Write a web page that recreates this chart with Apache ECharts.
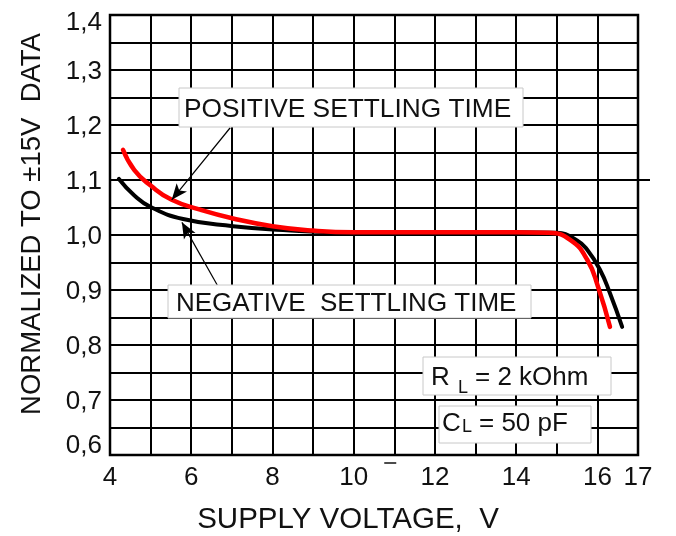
<!DOCTYPE html>
<html>
<head>
<meta charset="utf-8">
<script src="https://cdn.jsdelivr.net/npm/echarts@6/dist/echarts.min.js"></script>
<style>
  html, body { margin: 0; padding: 0; background: #fff; }
  #chart { width: 676px; height: 536px; }
</style>
</head>
<body>
<div id="chart"></div>
<script>
// Supply voltage (V) and normalized settling time for the positive edge
const posVoltage = [4.32, 4.6, 5.0, 5.52, 6.22, 7.03, 8.0, 9.0, 10, 12, 14, 14.8, 15.33, 15.75, 16.02, 16.31];
const posTime    = [1.155, 1.118, 1.09, 1.064, 1.046, 1.03, 1.016, 1.008, 1.005, 1.005, 1.005, 1.004, 0.991, 0.955, 0.905, 0.833];

// Same for the negative edge
const negVoltage = [4.22, 4.6, 5.0, 5.8, 7.03, 8.26, 9.5, 12, 14, 15.0, 15.5, 15.75, 16.07, 16.31, 16.61];
const negTime    = [1.102, 1.072, 1.051, 1.029, 1.016, 1.009, 1.005, 1.005, 1.005, 1.004, 0.99, 0.973, 0.936, 0.894, 0.833];

// Labelled ticks
const xTickLabels = [4, 6, 8, 10, 12, 14, 16, 17];
const yTickLabels = [0.6, 0.7, 0.8, 0.9, 1.0, 1.1, 1.2, 1.3, 1.4];

// Pointer arrows: [from, to] in data coordinates
const posArrow = [[6.96, 1.195], [5.52, 1.064]];
const negArrow = [[6.64, 0.909], [5.77, 1.023]];

const FONT = "'Liberation Sans', Arial, Helvetica, sans-serif";

function zip(xs, ys) { return xs.map((x, i) => [x, ys[i]]); }
function isLabeled(list, v) { return list.some(t => Math.abs(t - v) < 1e-6); }

const chart = echarts.init(document.getElementById('chart'), null, { renderer: 'canvas' });

const gridLine = { show: true, lineStyle: { color: '#000', width: 2 } };

function arrowMarks(pair) {
  return {
    silent: true,
    symbol: ['none', 'arrow'],
    symbolSize: [10, 16],
    label: { show: false },
    emphasis: { disabled: true },
    lineStyle: { color: '#000', width: 1.2, type: 'solid' },
    data: [[{ coord: pair[0] }, { coord: pair[1] }]]
  };
}

// Text placed by the vertical middle of its line box
function txt(id, x, y, text, size, extra) {
  const el = {
    type: 'text', id: id, x: x, y: y, z: 20,
    style: { text: text, fontSize: size, fontFamily: FONT, fontWeight: 'normal', fill: '#111', verticalAlign: 'middle' }
  };
  if (extra) {
    Object.assign(el.style, extra.style || {});
    if (extra.rotation != null) el.rotation = extra.rotation;
  }
  return el;
}

function box(id, x, y, w, h) {
  return {
    type: 'rect', id: id, z: 19,
    shape: { x: x, y: y, width: w, height: h },
    style: { fill: '#ffffff', stroke: '#c8c8c8', lineWidth: 1 }
  };
}

chart.setOption({
  animation: false,
  backgroundColor: '#fff',
  grid: { left: 110, top: 15, right: 38, bottom: 81, show: true, borderColor: '#000', borderWidth: 2.5, backgroundColor: 'transparent' },
  xAxis: {
    type: 'value', min: 4, max: 17, interval: 1,
    axisLine: { show: false },
    axisTick: { show: false },
    splitLine: gridLine,
    axisLabel: {
      margin: 10, color: '#111', fontSize: 26, fontFamily: FONT,
      formatter: v => isLabeled(xTickLabels, v) ? String(Math.round(v)) : ''
    }
  },
  yAxis: {
    type: 'value', min: 0.6, max: 1.4, interval: 0.05,
    axisLine: { show: false },
    axisTick: { show: false },
    splitLine: gridLine,
    axisLabel: {
      margin: 8, color: '#111', fontSize: 26, fontFamily: FONT,
      formatter: v => {
        if (!isLabeled(yTickLabels, v)) return '';
        const s = v.toFixed(1).replace('.', ',');
        if (Math.abs(v - 1.4) < 1e-6) return '{top|' + s + '}';
        if (Math.abs(v - 0.6) < 1e-6) return '{bot|' + s + '}';
        return '{n|' + s + '}';
      },
      rich: {
        n:   { fontSize: 26, fontFamily: FONT, color: '#111', padding: [4, 0, 0, 0] },
        top: { fontSize: 26, fontFamily: FONT, color: '#111', padding: [16, 0, 0, 0] },
        bot: { fontSize: 26, fontFamily: FONT, color: '#111', padding: [0, 0, 18, 0] }
      }
    }
  },
  series: [
    {
      name: 'NEGATIVE SETTLING TIME',
      type: 'line',
      data: zip(negVoltage, negTime),
      smooth: 0.5,
      showSymbol: false,
      lineStyle: { color: '#000', width: 4, cap: 'round', join: 'round' },
      z: 3,
      markLine: arrowMarks(negArrow)
    },
    {
      name: 'POSITIVE SETTLING TIME',
      type: 'line',
      data: zip(posVoltage, posTime),
      smooth: 0.5,
      showSymbol: false,
      lineStyle: { color: '#ff0000', width: 4.5, cap: 'round', join: 'round' },
      z: 4,
      markLine: arrowMarks(posArrow)
    }
  ]
});

// The 1,1 grid line runs a little past the right frame; a short dash sits under the frame near 11 V
const p11 = chart.convertToPixel({ gridIndex: 0 }, [17, 1.1]);
const pDash = chart.convertToPixel({ gridIndex: 0 }, [10.9, 0.6]);

chart.setOption({
  graphic: [
    // axis titles
    txt('xName', 348, 520, 'SUPPLY VOLTAGE,  V', 29.5, { style: { align: 'center' } }),
    txt('yName', 32, 224, 'NORMALIZED TO ±15V  DATA', 27.5, { rotation: Math.PI / 2, style: { align: 'center' } }),
    // curve captions
    box('posBox', 179, 88, 344, 39),
    txt('posText', 184, 110, 'POSITIVE SETTLING TIME', 26.3),
    box('negBox', 168, 285, 363, 33),
    txt('negText', 176, 304, 'NEGATIVE  SETTLING TIME', 26),
    // load conditions
    box('rBox', 423, 357, 188, 38),
    txt('rMain', 431, 378, 'R', 26),
    txt('rSub', 458, 388, 'L', 18),
    txt('rRest', 475, 378, '= 2 kOhm', 26),
    box('cBox', 439, 406, 152, 37),
    txt('cMain', 442, 424, 'C', 26),
    txt('cSub', 462, 427, 'L', 18),
    txt('cRest', 479, 424, '= 50 pF', 26),
    // frame details
    { type: 'line', id: 'ext11', z: 1, shape: { x1: p11[0], y1: p11[1], x2: p11[0] + 12, y2: p11[1] }, style: { stroke: '#000', lineWidth: 2 } },
    { type: 'line', id: 'dash', z: 20, shape: { x1: pDash[0] - 6, y1: pDash[1] + 8, x2: pDash[0] + 6, y2: pDash[1] + 8 }, style: { stroke: '#111', lineWidth: 1.5 } }
  ]
});
</script>
</body>
</html>
